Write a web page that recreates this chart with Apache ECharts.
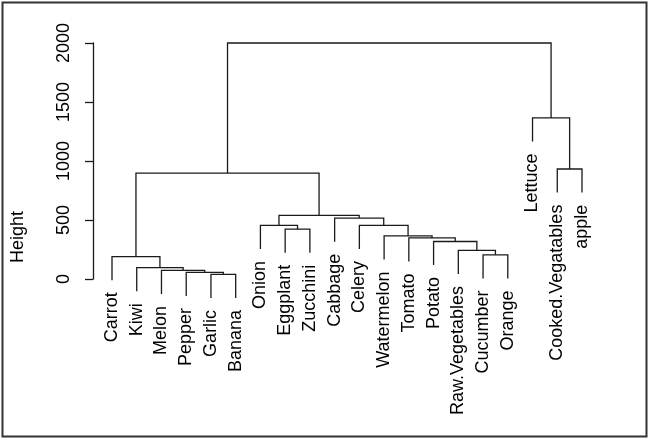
<!DOCTYPE html>
<html>
<head>
<meta charset="utf-8">
<script src="https://cdn.jsdelivr.net/npm/echarts@6/dist/echarts.min.js"></script>
<style>
html,body{margin:0;padding:0;background:#fff;}
#chart{width:649px;height:439px;}
</style>
</head>
<body>
<div id="chart"></div>
<script>
// Leaves in dendrogram order
const labels = ['Carrot','Kiwi','Melon','Pepper','Garlic','Banana','Onion','Eggplant','Zucchini',
  'Cabbage','Celery','Watermelon','Tomato','Potato','Raw.Vegetables','Cucumber','Orange',
  'Lettuce','Cooked.Vegatables','apple'];
// hclust-style merge table: negative = leaf (1-based), positive = earlier merge row
const mergeA = [-5,-4,-3,-2,-1,-16,-15,-14,-13,-12,-8,-7,-11,-10,12,5,-19,-18,16];
const mergeB = [-6, 1, 2, 3, 4,-17,  6,  7,  8,  9,-9,11, 10, 13,14,15,-20,17,18];
const heights = [40,56,73,97,190,205,243,318,348,366,422,455,455,516,540,897,932,1365,2000];
const yTickValues = [0,500,1000,1500,2000];
const axisTitle = 'Height';

const hang = 0.1 * (Math.max(...heights));
const mx = [];
const leafEnd = new Array(labels.length).fill(0);
const branchData = [];
function nx(k){ return k < 0 ? -k : mx[k-1]; }
function ny(k, h){ return k < 0 ? h - hang : heights[k-1]; }
for (let i = 0; i < heights.length; i++) {
  const a = mergeA[i], b = mergeB[i], h = heights[i];
  mx.push((nx(a) + nx(b)) / 2);
  if (a < 0) leafEnd[-a-1] = h - hang;
  if (b < 0) leafEnd[-b-1] = h - hang;
  branchData.push([nx(a), ny(a,h), nx(b), ny(b,h), h]);
}
const labelData = labels.map((l,i) => [i+1, leafEnd[i]]);

const LINE = '#1a1a1a';
const FONT = '"Liberation Sans", Arial, sans-serif';

const chart = echarts.init(document.getElementById('chart'));
chart.setOption({
  animation: false,
  backgroundColor: '#fff',
  grid: { left: 112, right: 67, top: 43, bottom: 160, outerBoundsMode: 'none' },
  xAxis: { type: 'value', min: 1, max: labels.length, show: false },
  yAxis: {
    type: 'value', min: yTickValues[0], max: yTickValues[yTickValues.length-1], interval: 500,
    offset: 19,
    axisLine: { show: true, lineStyle: { color: LINE, width: 1.3 } },
    axisTick: { show: true, length: 8, lineStyle: { color: LINE, width: 1.3 } },
    splitLine: { show: false },
    axisLabel: { rotate: 90, margin: 20, fontSize: 18, color: '#000', fontFamily: FONT,
      formatter: function(v){ return String(v); } }
  },
  graphic: [
    { type: 'rect', shape: { x: 2.5, y: 2.5, width: 644, height: 434 },
      style: { fill: null, stroke: '#333', lineWidth: 2 }, silent: true },
    { type: 'text', x: 18, y: 237, rotation: Math.PI/2,
      style: { text: axisTitle, font: '18px ' + FONT, fill: '#000', textAlign: 'center', textVerticalAlign: 'middle' } }
  ],
  series: [
    {
      type: 'custom', clip: false,
      data: branchData,
      renderItem: function(params, api){
        const pa = api.coord([api.value(0), api.value(1)]);
        const pb = api.coord([api.value(2), api.value(3)]);
        const ph = api.coord([api.value(0), api.value(4)]);
        return { type: 'polyline',
          shape: { points: [pa, [pa[0], ph[1]], [pb[0], ph[1]], pb] },
          style: { stroke: LINE, lineWidth: 1.3, fill: null } };
      }
    },
    {
      type: 'custom', clip: false,
      data: labelData,
      renderItem: function(params, api){
        const p = api.coord([api.value(0), api.value(1)]);
        return { type: 'text', x: p[0], y: p[1] + 12, rotation: Math.PI/2,
          style: { text: labels[params.dataIndex], font: '18px ' + FONT, fill: '#000',
            textAlign: 'right', textVerticalAlign: 'middle' } };
      }
    }
  ]
});
</script>
</body>
</html>
